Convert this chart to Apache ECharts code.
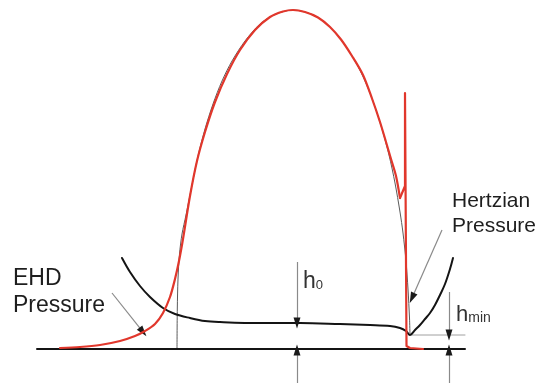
<!DOCTYPE html>
<html>
<head>
<meta charset="utf-8">
<script src="https://cdn.jsdelivr.net/npm/echarts@6/dist/echarts.min.js"></script>
<style>
  html, body { margin: 0; padding: 0; background: #fff; }
  #chart { width: 543px; height: 383px; }
</style>
</head>
<body>
<div id="chart"></div>
<script>
// EHD line contact: pressure distribution and film thickness along the contact.
// x = position along the contact, y = height above the lower surface (plot units).

const contactSurface = [[37, 0], [465, 0]];
const hminLevel = [[410, 14], [465, 14]];

// Film thickness (gap between the surfaces)
const filmThickness = [
  [122, 91], [130, 77], [140, 63], [150, 52], [163, 41], [175, 35], [190, 31],
  [205, 28], [220, 27], [260, 26], [300, 26], [340, 25], [370, 24], [390, 23],
  [400, 21], [406, 18], [410, 14], [415, 19], [420, 24], [425, 30], [430, 36],
  [435, 44], [440, 54], [445, 65], [450, 80], [453, 91]
];

// EHD pressure: smooth part from the inlet to the local minimum
const ehdPressure = [
  [60, 1], [80, 2], [100, 4], [120, 8], [135, 13], [145, 18], [155, 25],
  [163, 36], [170, 52], [175, 70], [179, 88], [183, 110], [190, 153],
  [197, 188], [205, 217], [215, 247], [227, 275], [240, 299], [255, 319],
  [270, 332], [283, 337.5], [293, 339], [305, 337], [318, 331.5], [330, 322],
  [341, 309.5], [352, 293], [363, 274], [372, 250.5], [380, 227], [386, 207],
  [391, 190], [396, 173], [400, 151]
];

// EHD pressure: spike at the outlet and drop to zero
const ehdSpike = [
  [400, 151], [405, 163], [405, 256], [406.5, 256], [406.5, 3], [410, 1], [423, 0]
];

// Hertzian (dry contact) pressure
const hertzPressure = [
  [177, 0], [177.3, 40], [178, 70], [179.5, 95], [182, 115], [186, 134],
  [192, 164], [198, 193], [205, 220], [213, 245], [222, 268], [232, 288],
  [245, 308], [260, 325], [275, 334.6], [293, 339], [312, 334.6], [327, 325],
  [342, 308], [355, 288], [365, 268], [374, 245], [382, 220], [389, 194],
  [395, 166], [400, 137], [403, 116], [406, 88], [408, 60], [409.5, 31], [410, 14]
];

// Leader and dimension arrows: [start, tip]
const arrowSegments = [
  [[112, 56], [143, 17]],   // EHD pressure leader
  [[442, 119], [412, 51]],  // Hertzian pressure leader
  [[297, 87], [297, 26]],   // h0, upper
  [[297, -34], [297, -1]],  // h0, lower
  [[449, 57], [449, 14]],   // hmin, upper
  [[449, -34], [449, -1]]   // hmin, lower
];

// Annotation text and anchor points (top-left of each text block)
const annotationTexts = ['EHD\nPressure', 'Hertzian\nPressure', '{h|h}{s|0}', '{h|h}{s|min}'];
const annotationAnchors = [[13, 84], [452, 160], [303, 79], [456, 45]];

const chart = echarts.init(document.getElementById('chart'), null, { renderer: 'canvas' });

const FONT = '"Liberation Sans", Arial, Helvetica, sans-serif';
const RED = '#e1372c';

// Build arrow shafts and heads for markLine
const arrowLines = [];
arrowSegments.forEach(function (seg) {
  const a = seg[0], b = seg[1];
  const dx = b[0] - a[0], dy = b[1] - a[1];
  const len = Math.sqrt(dx * dx + dy * dy);
  const back = [b[0] - dx / len * 3, b[1] - dy / len * 3];
  arrowLines.push([
    { coord: a, symbol: 'none', lineStyle: { color: '#8a8a8a', width: 1.2, type: 'solid' } },
    { coord: back, symbol: 'none' }
  ]);
  arrowLines.push([
    { coord: back, symbol: 'none', lineStyle: { color: '#1a1a1a', width: 1.2, type: 'solid' } },
    { coord: b, symbol: 'triangle', symbolSize: [7, 11] }
  ]);
});

function lineSeries(name, data, color, width, smooth, z) {
  return {
    name: name,
    type: 'line',
    data: data,
    smooth: smooth,
    showSymbol: false,
    symbol: 'none',
    silent: true,
    z: z,
    lineStyle: { color: color, width: width, cap: 'round', join: 'round' }
  };
}

chart.setOption({
  animation: false,
  backgroundColor: '#ffffff',
  grid: { left: 0, right: 0, top: 0, bottom: 0 },
  xAxis: { type: 'value', min: 0, max: 543, show: false },
  yAxis: { type: 'value', min: -34, max: 349, show: false },
  series: [
    lineSeries('contact', contactSurface, '#141414', 2, false, 3),
    lineSeries('hmin level', hminLevel, '#a0a0a0', 1, false, 2),
    lineSeries('Hertzian pressure', hertzPressure, '#5a5a5a', 1, 0.3, 2),
    lineSeries('film thickness', filmThickness, '#141414', 2, 0.35, 4),
    lineSeries('EHD pressure', ehdPressure, RED, 2.2, 0.3, 5),
    lineSeries('EHD spike', ehdSpike, RED, 2.2, false, 5),
    {
      name: 'arrows',
      type: 'line',
      data: [],
      silent: true,
      z: 6,
      markLine: {
        silent: true,
        animation: false,
        label: { show: false },
        emphasis: { disabled: true },
        symbol: ['none', 'none'],
        data: arrowLines
      }
    }
  ]
});

// Place annotation text at data positions
const textStyles = [
  { font: '23px ' + FONT, lineHeight: 27, fill: '#1e1e1e' },
  { font: '21px ' + FONT, lineHeight: 25, fill: '#1e1e1e' },
  { fill: '#333', rich: { h: { fontSize: 23, fontFamily: FONT, color: '#333', lineHeight: 23, verticalAlign: 'bottom' }, s: { fontSize: 13, fontFamily: FONT, color: '#444', lineHeight: 13, verticalAlign: 'bottom', padding: [0, 0, 1, 0] } } },
  { fill: '#333', rich: { h: { fontSize: 22, fontFamily: FONT, color: '#333', lineHeight: 22, verticalAlign: 'bottom' }, s: { fontSize: 14, fontFamily: FONT, color: '#444', lineHeight: 14, verticalAlign: 'bottom', padding: [0, 0, 1, 0] } } }
];

const graphics = annotationTexts.map(function (txt, i) {
  const p = chart.convertToPixel({ xAxisIndex: 0, yAxisIndex: 0 }, annotationAnchors[i]);
  const st = Object.assign({ text: txt, textAlign: 'left', textVerticalAlign: 'top' }, textStyles[i]);
  return { type: 'text', x: p[0], y: p[1], silent: true, z: 10, style: st };
});

chart.setOption({ graphic: graphics });
</script>
</body>
</html>
